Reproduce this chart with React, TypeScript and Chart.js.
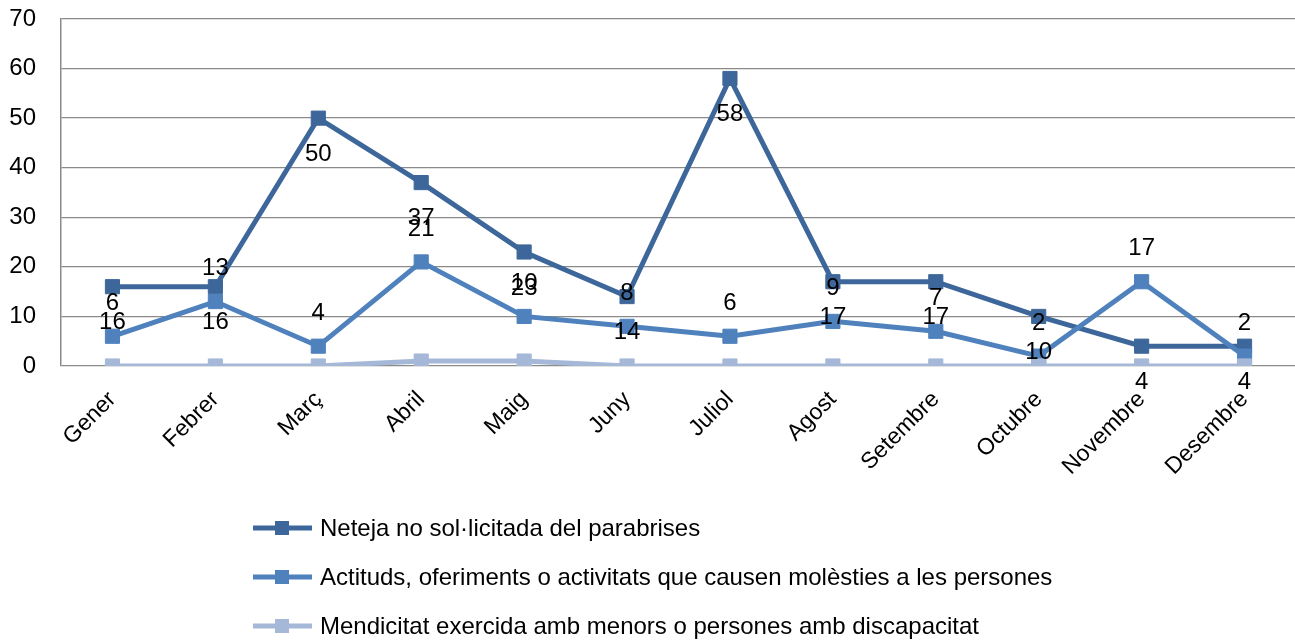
import React, { useEffect, useRef } from 'react';
import { Chart, registerables } from 'chart.js';

Chart.register(...registerables);

const months = ['Gener', 'Febrer', 'Març', 'Abril', 'Maig', 'Juny', 'Juliol', 'Agost', 'Setembre', 'Octubre', 'Novembre', 'Desembre'];
const neteja = [16, 16, 50, 37, 23, 14, 58, 17, 17, 10, 4, 4];
const actituds = [6, 13, 4, 21, 10, 8, 6, 9, 7, 2, 17, 2];
const mendicitat = [0, 0, 0, 1, 1, 0, 0, 0, 0, 0, 0, 0];
const yTicks = [0, 10, 20, 30, 40, 50, 60, 70];
const seriesNames = [
  'Neteja no sol·licitada del parabrises',
  'Actituds, oferiments o activitats que causen molèsties a les persones',
  'Mendicitat exercida amb menors o persones amb discapacitat',
];
const seriesColors = ['#3D679A', '#4F81BD', '#A6B8D7'];

const FONT = '"Liberation Sans", Arial, sans-serif';

const labelPlugin = {
  id: 'valueLabels',
  afterDatasetsDraw(chart: any) {
    const ctx = chart.ctx;
    ctx.save();
    ctx.font = `24px ${FONT}`;
    ctx.fillStyle = '#000';
    ctx.textAlign = 'center';
    ctx.textBaseline = 'middle';
    chart.data.datasets.forEach((ds: any, i: number) => {
      if (ds.labelOffset === undefined || ds.labelOffset === null) return;
      const meta = chart.getDatasetMeta(i);
      meta.data.forEach((pt: any, j: number) => {
        ctx.fillText(String(ds.data[j]), pt.x, pt.y + ds.labelOffset);
      });
    });
    ctx.restore();
  },
};

const legendPlugin = {
  id: 'customLegend',
  afterDraw(chart: any) {
    const ctx = chart.ctx;
    ctx.save();
    chart.data.datasets.forEach((ds: any, i: number) => {
      const y = 528 + i * 49;
      ctx.strokeStyle = ds.borderColor;
      ctx.lineWidth = 5;
      ctx.beginPath();
      ctx.moveTo(253, y);
      ctx.lineTo(312, y);
      ctx.stroke();
      ctx.fillStyle = ds.backgroundColor;
      ctx.fillRect(282 - 7, y - 7, 14, 14);
      ctx.fillStyle = '#000';
      ctx.font = `24px ${FONT}`;
      ctx.textAlign = 'left';
      ctx.textBaseline = 'middle';
      ctx.fillText(ds.label, 320, y + 1);
    });
    ctx.restore();
  },
};

export default function App() {
  const ref = useRef<HTMLCanvasElement>(null);
  useEffect(() => {
    if (!ref.current) return;
    const series = [neteja, actituds, mendicitat];
    const offsets = [36, -33, null];
    const chart = new Chart(ref.current, {
      type: 'line',
      data: {
        labels: months,
        datasets: series.map((d, i) => ({
          label: seriesNames[i],
          data: d,
          borderColor: seriesColors[i],
          backgroundColor: seriesColors[i],
          pointBackgroundColor: seriesColors[i],
          pointBorderColor: seriesColors[i],
          borderWidth: 5,
          pointStyle: 'rect',
          pointRadius: 10,
          pointBorderWidth: 1,
          tension: 0,
          order: 2 - i,
          labelOffset: offsets[i],
        })) as any,
      },
      options: {
        responsive: false,
        animation: false,
        layout: { padding: { top: 19, bottom: 155, left: 0, right: 0 } },
        plugins: { legend: { display: false }, tooltip: { enabled: false } },
        scales: {
          x: {
            offset: true,
            grid: { display: false, drawTicks: false },
            border: { display: false },
            ticks: {
              maxRotation: 45,
              minRotation: 45,
              padding: 20,
              color: '#000',
              font: { family: FONT, size: 23 },
              autoSkip: false,
            },
            afterFit(scale: any) {
              scale.height = 120;
              scale.paddingLeft = 0;
              scale.paddingRight = 0;
              scale.paddingTop = 0;
              scale.paddingBottom = 0;
            },
          },
          y: {
            min: 0,
            max: 70,
            afterBuildTicks(scale: any) {
              scale.ticks = yTicks.map((v) => ({ value: v }));
            },
            grid: { color: '#8A8A8A', lineWidth: 1.3, drawTicks: false },
            border: { display: true, color: '#8A8A8A', width: 1.5 },
            ticks: {
              padding: 25,
              color: '#000',
              font: { family: FONT, size: 24 },
            },
            afterFit(scale: any) {
              scale.width = 61;
              scale.paddingTop = 0;
              scale.paddingBottom = 0;
              scale.paddingLeft = 0;
              scale.paddingRight = 0;
            },
          },
        },
      },
      plugins: [labelPlugin, legendPlugin],
    });
    return () => chart.destroy();
  }, []);
  return (
    <div style={{ position: 'fixed', left: 0, top: 0, width: 1295, height: 641, overflow: 'hidden', background: '#fff' }}>
      <canvas ref={ref} width={1307} height={641} />
    </div>
  );
}
